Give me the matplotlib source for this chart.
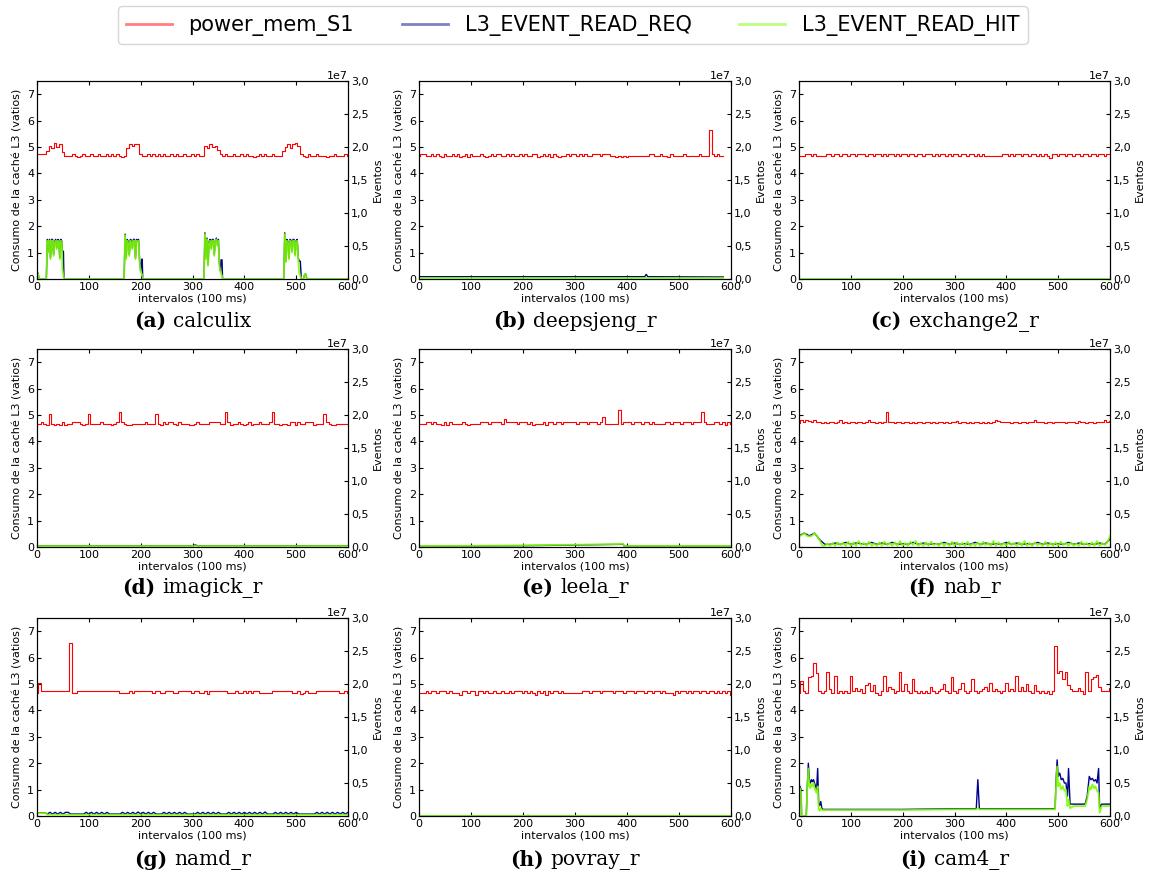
import numpy as np
import matplotlib.pyplot as plt
from matplotlib.lines import Line2D
from matplotlib.ticker import FuncFormatter
from matplotlib.offsetbox import TextArea, HPacker, AnnotationBbox

# power_mem_S1 (vatios), sampled every 5 intervals
calculix_pw = [
    4.72, 4.72, 4.72, 4.72, 4.85, 5.05, 4.95, 5.15, 5.0, 5.1, 4.8, 4.67, 4.67, 4.67, 4.72, 4.67, 4.62, 4.67, 4.72, 4.67,
    4.67, 4.72, 4.67, 4.67, 4.72, 4.67, 4.67, 4.72, 4.67, 4.72, 4.67, 4.72, 4.67, 4.62, 4.67, 4.95, 5.1, 5.05, 5.1, 5.1,
    4.75, 4.67, 4.67, 4.72, 4.67, 4.72, 4.67, 4.72, 4.67, 4.72, 4.67, 4.67, 4.72, 4.67, 4.72, 4.67, 4.67, 4.72, 4.67, 4.67,
    4.72, 4.67, 4.72, 4.67, 4.67, 5.05, 4.95, 5.1, 5.0, 5.05, 4.9, 4.72, 4.67, 4.72, 4.67, 4.67, 4.72, 4.67, 4.67, 4.72,
    4.67, 4.72, 4.67, 4.67, 4.62, 4.67, 4.72, 4.67, 4.72, 4.67, 4.67, 4.72, 4.67, 4.67, 4.67, 4.85, 5.0, 5.1, 4.95, 5.1,
    5.15, 5.05, 4.72, 4.67, 4.62, 4.72, 4.67, 4.67, 4.72, 4.67, 4.67, 4.67, 4.62, 4.67, 4.67, 4.72, 4.67, 4.67, 4.67, 4.72,
    4.67]
deepsjeng_pw = [
    4.67, 4.72, 4.72, 4.67, 4.67, 4.72, 4.67, 4.72, 4.67, 4.62, 4.72, 4.67, 4.67, 4.72, 4.67, 4.72, 4.62, 4.67, 4.72, 4.62,
    4.72, 4.67, 4.67, 4.67, 4.72, 4.67, 4.62, 4.67, 4.72, 4.67, 4.72, 4.72, 4.67, 4.67, 4.72, 4.67, 4.72, 4.67, 4.67, 4.72,
    4.67, 4.72, 4.67, 4.67, 4.72, 4.72, 4.62, 4.67, 4.72, 4.67, 4.72, 4.62, 4.72, 4.67, 4.62, 4.67, 4.67, 4.72, 4.67, 4.72,
    4.72, 4.67, 4.72, 4.67, 4.72, 4.67, 4.67, 4.72, 4.72, 4.72, 4.67, 4.72, 4.72, 4.72, 4.67, 4.67, 4.62, 4.67, 4.62, 4.67,
    4.62, 4.67, 4.67, 4.67, 4.67, 4.67, 4.67, 4.67, 4.67, 4.72, 4.72, 4.67, 4.67, 4.72, 4.67, 4.67, 4.62, 4.72, 4.67, 4.67,
    4.67, 4.67, 4.72, 4.67, 4.67, 4.67, 4.67, 4.67, 4.72, 4.67, 4.67, 4.67, 5.65, 4.72, 4.67, 4.72, 4.67, 4.67]
exchange2_pw = [
    4.67, 4.67, 4.67, 4.72, 4.72, 4.67, 4.72, 4.67, 4.67, 4.67, 4.67, 4.72, 4.72, 4.67, 4.72, 4.72, 4.67, 4.72, 4.72, 4.67,
    4.72, 4.72, 4.67, 4.72, 4.72, 4.72, 4.67, 4.72, 4.72, 4.67, 4.72, 4.72, 4.67, 4.72, 4.67, 4.72, 4.72, 4.67, 4.72, 4.67,
    4.72, 4.72, 4.67, 4.72, 4.72, 4.67, 4.72, 4.72, 4.67, 4.72, 4.72, 4.72, 4.67, 4.72, 4.67, 4.72, 4.72, 4.67, 4.72, 4.67,
    4.72, 4.72, 4.67, 4.72, 4.72, 4.67, 4.72, 4.72, 4.67, 4.72, 4.67, 4.72, 4.67, 4.67, 4.67, 4.67, 4.67, 4.67, 4.67, 4.72,
    4.72, 4.67, 4.72, 4.67, 4.72, 4.72, 4.67, 4.72, 4.72, 4.67, 4.72, 4.72, 4.67, 4.72, 4.67, 4.72, 4.67, 4.58, 4.72, 4.72,
    4.67, 4.72, 4.72, 4.67, 4.72, 4.72, 4.67, 4.72, 4.72, 4.67, 4.72, 4.72, 4.67, 4.72, 4.72, 4.67, 4.72, 4.72, 4.67, 4.72,
    4.72]
imagick_pw = [
    4.67, 4.67, 4.75, 4.67, 4.62, 5.02, 4.67, 4.62, 4.67, 4.62, 4.75, 4.62, 4.67, 4.67, 4.75, 4.75, 4.75, 4.67, 4.62, 4.67,
    5.02, 4.67, 4.67, 4.67, 4.67, 4.75, 4.67, 4.67, 4.67, 4.62, 4.67, 4.75, 5.1, 4.75, 4.67, 4.62, 4.62, 4.67, 4.67, 4.67,
    4.67, 4.67, 4.75, 4.67, 4.67, 4.67, 5.02, 4.67, 4.62, 4.75, 4.67, 4.75, 4.75, 4.67, 4.62, 4.75, 4.67, 4.67, 4.67, 4.62,
    4.62, 4.67, 4.75, 4.67, 4.67, 4.67, 4.67, 4.75, 4.75, 4.75, 4.75, 4.67, 4.67, 5.1, 4.75, 4.62, 4.67, 4.67, 4.75, 4.67,
    4.62, 4.67, 4.75, 4.62, 4.67, 4.67, 4.75, 4.67, 4.67, 4.67, 4.75, 5.1, 4.67, 4.67, 4.62, 4.67, 4.67, 4.62, 4.75, 4.75,
    4.62, 4.75, 4.67, 4.67, 4.75, 4.75, 4.75, 4.62, 4.67, 4.67, 4.67, 5.02, 4.75, 4.67, 4.62, 4.62, 4.67, 4.67, 4.67, 4.67,
    4.67]
leela_pw = [
    4.67, 4.67, 4.67, 4.75, 4.75, 4.67, 4.75, 4.67, 4.67, 4.62, 4.75, 4.62, 4.75, 4.67, 4.67, 4.67, 4.67, 4.75, 4.67, 4.62,
    4.67, 4.67, 4.67, 4.67, 4.75, 4.75, 4.75, 4.67, 4.75, 4.75, 4.75, 4.75, 4.67, 4.85, 4.75, 4.75, 4.75, 4.75, 4.67, 4.75,
    4.75, 4.75, 4.67, 4.75, 4.62, 4.67, 4.67, 4.67, 4.75, 4.62, 4.75, 4.75, 4.67, 4.75, 4.75, 4.67, 4.75, 4.75, 4.75, 4.75,
    4.75, 4.67, 4.75, 4.75, 4.75, 4.67, 4.75, 4.75, 4.75, 4.67, 4.75, 4.92, 4.67, 4.67, 4.67, 4.67, 4.67, 5.2, 4.67, 4.75,
    4.75, 4.75, 4.67, 4.75, 4.75, 4.75, 4.67, 4.75, 4.75, 4.67, 4.75, 4.67, 4.67, 4.67, 4.67, 4.75, 4.75, 4.67, 4.75, 4.75,
    4.75, 4.67, 4.75, 4.75, 4.75, 4.67, 4.75, 4.75, 4.75, 5.1, 4.75, 4.67, 4.67, 4.67, 4.75, 4.75, 4.67, 4.75, 4.62, 4.75,
    4.67]
nab_pw = [
    4.7, 4.8, 4.75, 4.8, 4.78, 4.72, 4.8, 4.75, 4.72, 4.7, 4.75, 4.7, 4.72, 4.75, 4.7, 4.72, 4.8, 4.7, 4.75, 4.7,
    4.72, 4.75, 4.7, 4.72, 4.75, 4.7, 4.72, 4.8, 4.75, 4.72, 4.7, 4.75, 4.7, 4.72, 5.1, 4.72, 4.75, 4.7, 4.72, 4.75,
    4.7, 4.72, 4.75, 4.7, 4.72, 4.7, 4.75, 4.72, 4.7, 4.72, 4.75, 4.7, 4.72, 4.7, 4.72, 4.75, 4.7, 4.72, 4.7, 4.72,
    4.75, 4.78, 4.7, 4.72, 4.75, 4.7, 4.72, 4.7, 4.75, 4.72, 4.7, 4.72, 4.7, 4.72, 4.7, 4.75, 4.8, 4.78, 4.75, 4.72,
    4.75, 4.72, 4.7, 4.75, 4.72, 4.7, 4.75, 4.72, 4.7, 4.72, 4.75, 4.8, 4.72, 4.75, 4.72, 4.7, 4.75, 4.72, 4.7, 4.75,
    4.72, 4.75, 4.72, 4.7, 4.75, 4.72, 4.75, 4.7, 4.78, 4.72, 4.75, 4.7, 4.72, 4.75, 4.7, 4.72, 4.75, 4.72, 4.8, 4.72,
    4.78]
namd_pw = [
    4.67, 5.05, 4.72, 4.75, 4.72, 4.75, 4.72, 4.75, 4.72, 4.75, 4.75, 4.72, 4.75, 6.55, 4.67, 4.67, 4.75, 4.72, 4.75, 4.72,
    4.75, 4.72, 4.75, 4.72, 4.75, 4.75, 4.72, 4.75, 4.75, 4.72, 4.75, 4.75, 4.67, 4.67, 4.67, 4.67, 4.75, 4.67, 4.75, 4.72,
    4.75, 4.75, 4.72, 4.75, 4.75, 4.67, 4.75, 4.72, 4.67, 4.67, 4.75, 4.72, 4.75, 4.67, 4.67, 4.75, 4.72, 4.75, 4.75, 4.72,
    4.67, 4.75, 4.72, 4.67, 4.67, 4.75, 4.62, 4.75, 4.75, 4.72, 4.75, 4.75, 4.72, 4.75, 4.67, 4.67, 4.67, 4.75, 4.67, 4.67,
    4.75, 4.67, 4.75, 4.67, 4.72, 4.75, 4.67, 4.67, 4.67, 4.67, 4.67, 4.75, 4.72, 4.75, 4.75, 4.72, 4.75, 4.72, 4.75, 4.67,
    4.67, 4.72, 4.62, 4.67, 4.75, 4.67, 4.67, 4.67, 4.75, 4.72, 4.75, 4.72, 4.75, 4.75, 4.72, 4.75, 4.75, 4.67, 4.67, 4.75,
    4.67]
povray_pw = [
    4.67, 4.67, 4.67, 4.72, 4.67, 4.72, 4.72, 4.67, 4.72, 4.72, 4.72, 4.67, 4.72, 4.67, 4.67, 4.67, 4.6, 4.72, 4.72, 4.67,
    4.72, 4.72, 4.6, 4.72, 4.72, 4.67, 4.72, 4.67, 4.67, 4.72, 4.67, 4.67, 4.72, 4.67, 4.67, 4.72, 4.67, 4.72, 4.72, 4.72,
    4.67, 4.72, 4.67, 4.72, 4.67, 4.6, 4.72, 4.67, 4.72, 4.6, 4.72, 4.67, 4.72, 4.72, 4.67, 4.72, 4.67, 4.67, 4.67, 4.67,
    4.67, 4.67, 4.67, 4.72, 4.72, 4.72, 4.67, 4.72, 4.72, 4.72, 4.67, 4.72, 4.72, 4.72, 4.72, 4.67, 4.72, 4.72, 4.72, 4.67,
    4.72, 4.72, 4.72, 4.67, 4.72, 4.72, 4.72, 4.67, 4.72, 4.72, 4.67, 4.72, 4.72, 4.67, 4.72, 4.67, 4.67, 4.67, 4.6, 4.72,
    4.67, 4.72, 4.72, 4.67, 4.72, 4.67, 4.72, 4.72, 4.67, 4.72, 4.72, 4.67, 4.72, 4.72, 4.67, 4.72, 4.67, 4.72, 4.67, 4.72,
    4.6]
cam4_pw = [
    4.67, 5.1, 4.72, 4.67, 5.25, 5.3, 5.8, 5.4, 4.75, 4.67, 4.72, 5.45, 4.8, 4.67, 5.3, 4.67, 4.72, 4.67, 4.72, 4.67,
    5.3, 4.75, 4.85, 4.72, 4.8, 4.67, 4.95, 5.05, 4.72, 4.95, 4.67, 4.6, 4.75, 5.3, 4.72, 4.9, 4.8, 4.67, 4.72, 5.45,
    4.75, 5.0, 4.72, 4.67, 5.2, 4.75, 4.67, 4.72, 4.67, 4.72, 4.67, 4.9, 4.72, 4.67, 4.72, 4.8, 5.0, 4.72, 4.67, 5.25,
    4.75, 4.67, 4.8, 5.05, 4.72, 4.67, 4.72, 5.2, 4.72, 4.67, 4.75, 4.8, 4.9, 4.72, 5.05, 4.75, 4.8, 4.72, 4.67, 4.75,
    5.05, 4.72, 4.8, 4.75, 5.3, 4.72, 4.9, 4.75, 5.0, 4.72, 4.67, 4.95, 4.72, 4.67, 4.72, 4.67, 4.72, 4.62, 4.72, 6.45,
    5.4, 5.5, 5.2, 5.45, 4.95, 4.8, 4.75, 4.72, 4.85, 4.72, 4.62, 5.45, 4.75, 5.2, 5.25, 5.35, 4.9, 4.75, 4.72, 4.75,
    4.85]

# L3 events (units of 1e7); irregular series carry their own time stamps
calculix_t = [
    0, 2, 4, 18, 20, 22, 24, 26, 28, 30, 32, 34, 36, 38, 40, 42, 44, 46, 48, 49, 51, 52,
    168, 170, 172, 174, 176, 178, 180, 182, 184, 186, 188, 190, 192, 194, 196, 198, 200, 202, 203, 204,
    322, 324, 326, 328, 330, 332, 334, 336, 338, 340, 342, 344, 346, 348, 350, 352, 354, 355, 357, 358,
    476, 478, 480, 482, 484, 486, 488, 490, 492, 494, 496, 498, 500, 502, 504, 506, 508, 510, 514, 516,
    518, 520, 522, 600]
calculix_req = [
    0.09, 0.09, 0.0, 0.0, 0.6, 0.42, 0.6, 0.32, 0.6, 0.6, 0.37, 0.57, 0.6, 0.47, 0.6, 0.59, 0.32, 0.6, 0.57, 0.42, 0.42, 0.0,
    0.0, 0.68, 0.32, 0.6, 0.57, 0.37, 0.6, 0.59, 0.47, 0.6, 0.6, 0.32, 0.6, 0.58, 0.6, 0.27, 0.12, 0.3, 0.3, 0.0,
    0.0, 0.7, 0.32, 0.62, 0.22, 0.57, 0.6, 0.47, 0.6, 0.6, 0.37, 0.58, 0.62, 0.52, 0.6, 0.22, 0.12, 0.29, 0.29, 0.0,
    0.0, 0.7, 0.27, 0.6, 0.57, 0.32, 0.6, 0.59, 0.42, 0.6, 0.6, 0.37, 0.58, 0.6, 0.32, 0.27, 0.27, 0.0, 0.0, 0.06,
    0.08, 0.02, 0.0, 0.0]
calculix_hit = [
    0.08, 0.08, 0.0, 0.0, 0.58, 0.4, 0.58, 0.3, 0.58, 0.58, 0.35, 0.55, 0.58, 0.45, 0.58, 0.57, 0.3, 0.58, 0.55, 0.15, 0.05, 0.0,
    0.0, 0.66, 0.3, 0.58, 0.55, 0.35, 0.58, 0.57, 0.45, 0.58, 0.58, 0.3, 0.58, 0.56, 0.58, 0.25, 0.1, 0.08, 0.05, 0.0,
    0.0, 0.68, 0.3, 0.6, 0.2, 0.55, 0.58, 0.45, 0.58, 0.58, 0.35, 0.56, 0.6, 0.5, 0.58, 0.2, 0.1, 0.08, 0.05, 0.0,
    0.0, 0.68, 0.25, 0.58, 0.55, 0.3, 0.58, 0.57, 0.4, 0.58, 0.58, 0.35, 0.56, 0.58, 0.3, 0.08, 0.05, 0.0, 0.0, 0.06,
    0.08, 0.02, 0.0, 0.0]

deepsjeng_t = [0, 430, 434, 437, 440, 585]
deepsjeng_req = [0.035, 0.035, 0.035, 0.07, 0.035, 0.03]
deepsjeng_hit = [0.015, 0.015, 0.015, 0.02, 0.015, 0.015]

exchange2_t = [0, 600]
exchange2_req = [0.002, 0.002]
exchange2_hit = [0.001, 0.001]

imagick_t = [0, 300, 305, 310, 600]
imagick_req = [0.02, 0.02, 0.03, 0.02, 0.02]
imagick_hit = [0.018, 0.018, 0.018, 0.018, 0.018]

leela_t = [0, 100, 200, 300, 385, 392, 395, 600]
leela_req = [0.012, 0.015, 0.02, 0.03, 0.04, 0.045, 0.012, 0.012]
leela_hit = [0.015, 0.018, 0.025, 0.035, 0.045, 0.05, 0.015, 0.015]

# nab: REQ every 10 intervals, HIT every 5
nab_req = [
    0.17, 0.21, 0.17, 0.21, 0.11, 0.04, 0.04, 0.06, 0.04, 0.07,
    0.04, 0.06, 0.05, 0.04, 0.07, 0.04, 0.06, 0.04, 0.07, 0.04,
    0.05, 0.04, 0.07, 0.04, 0.06, 0.04, 0.05, 0.04, 0.07, 0.04,
    0.06, 0.04, 0.05, 0.04, 0.07, 0.04, 0.06, 0.04, 0.05, 0.04,
    0.07, 0.04, 0.06, 0.04, 0.05, 0.04, 0.07, 0.04, 0.06, 0.04,
    0.05, 0.04, 0.07, 0.04, 0.06, 0.04, 0.05, 0.04, 0.06, 0.04,
    0.12]
nab_hit = [
    0.16, 0.18, 0.21, 0.17, 0.16, 0.17, 0.21, 0.16, 0.1, 0.02, 0.02, 0.05, 0.02, 0.06, 0.02, 0.07, 0.03, 0.06, 0.02, 0.08,
    0.02, 0.07, 0.02, 0.09, 0.03, 0.06, 0.02, 0.08, 0.02, 0.05, 0.02, 0.07, 0.02, 0.08, 0.03, 0.06, 0.02, 0.07, 0.02, 0.09,
    0.02, 0.06, 0.02, 0.08, 0.03, 0.09, 0.02, 0.06, 0.02, 0.07, 0.02, 0.08, 0.03, 0.05, 0.02, 0.07, 0.02, 0.06, 0.02, 0.08,
    0.02, 0.07, 0.03, 0.06, 0.02, 0.08, 0.02, 0.05, 0.02, 0.07, 0.02, 0.08, 0.03, 0.06, 0.02, 0.09, 0.02, 0.07, 0.02, 0.06,
    0.02, 0.08, 0.03, 0.06, 0.02, 0.07, 0.02, 0.09, 0.02, 0.06, 0.02, 0.07, 0.03, 0.05, 0.02, 0.08, 0.02, 0.06, 0.02, 0.07,
    0.02, 0.08, 0.03, 0.06, 0.02, 0.07, 0.02, 0.05, 0.02, 0.08, 0.03, 0.06, 0.02, 0.07, 0.02, 0.09, 0.02, 0.06, 0.03, 0.07,
    0.17]

# namd: REQ every 5 intervals, HIT as a step
namd_req = [
    0.05, 0.05, 0.05, 0.05, 0.03, 0.055, 0.03, 0.055, 0.03, 0.055, 0.03, 0.055, 0.055, 0.03, 0.03, 0.03, 0.03, 0.03, 0.03, 0.055,
    0.03, 0.055, 0.03, 0.055, 0.03, 0.055, 0.03, 0.055, 0.03, 0.03, 0.03, 0.03, 0.03, 0.055, 0.03, 0.055, 0.03, 0.055, 0.03, 0.06,
    0.03, 0.055, 0.03, 0.055, 0.03, 0.055, 0.03, 0.03, 0.03, 0.055, 0.03, 0.055, 0.03, 0.055, 0.03, 0.055, 0.03, 0.055, 0.03, 0.03,
    0.03, 0.03, 0.055, 0.03, 0.055, 0.03, 0.055, 0.03, 0.055, 0.03, 0.055, 0.03, 0.03, 0.03, 0.055, 0.03, 0.055, 0.03, 0.055, 0.03,
    0.055, 0.03, 0.055, 0.03, 0.055, 0.03, 0.055, 0.03, 0.06, 0.03, 0.03, 0.03, 0.055, 0.03, 0.055, 0.03, 0.055, 0.03, 0.055, 0.03,
    0.055, 0.03, 0.03, 0.03, 0.03, 0.03, 0.03, 0.03, 0.055, 0.03, 0.055, 0.03, 0.055, 0.03, 0.055, 0.03, 0.055, 0.03, 0.055, 0.03,
    0.055]
namd_hit_t = [0, 18, 20, 600]
namd_hit = [0.045, 0.045, 0.02, 0.02]

povray_t = [0, 205, 210, 215, 600]
povray_req = [0.002, 0.002, 0.008, 0.002, 0.002]
povray_hit = [0.001, 0.001, 0.004, 0.001, 0.001]

cam4_t = [
    0, 2, 4, 5, 14, 16, 18, 20, 22, 24, 26, 28, 30, 32, 34, 36, 38, 40, 42, 44,
    46, 100, 200, 300, 342, 345, 348, 400, 494, 496, 498, 500, 503, 506, 509, 512, 515, 518, 520, 523,
    530, 552, 556, 560, 563, 566, 569, 572, 575, 578, 580, 584, 600]
cam4_req = [
    0.4, 0.45, 0.4, 0.0, 0.0, 0.45, 0.8, 0.55, 0.5, 0.55, 0.52, 0.55, 0.5, 0.45, 0.4, 0.72, 0.2, 0.16, 0.22, 0.12,
    0.1, 0.1, 0.1, 0.11, 0.11, 0.55, 0.11, 0.11, 0.11, 0.55, 0.85, 0.6, 0.65, 0.55, 0.57, 0.5, 0.5, 0.3, 0.72, 0.18,
    0.18, 0.18, 0.3, 0.6, 0.55, 0.57, 0.53, 0.55, 0.5, 0.72, 0.12, 0.18, 0.18]
cam4_hit = [
    0.35, 0.42, 0.35, 0.0, 0.0, 0.4, 0.72, 0.45, 0.42, 0.48, 0.45, 0.5, 0.42, 0.38, 0.35, 0.45, 0.1, 0.08, 0.12, 0.09,
    0.09, 0.09, 0.09, 0.1, 0.1, 0.12, 0.1, 0.1, 0.1, 0.45, 0.75, 0.45, 0.5, 0.4, 0.45, 0.38, 0.4, 0.15, 0.25, 0.12,
    0.15, 0.15, 0.25, 0.45, 0.4, 0.48, 0.42, 0.45, 0.38, 0.35, 0.05, 0.15, 0.15]

letters = ['a', 'b', 'c', 'd', 'e', 'f', 'g', 'h', 'i']
names = ['calculix', 'deepsjeng_r', 'exchange2_r', 'imagick_r', 'leela_r',
         'nab_r', 'namd_r', 'povray_r', 'cam4_r']


def every(values, step):
    return np.arange(len(values)) * step


panels = [
    (calculix_pw, (calculix_t, calculix_req), (calculix_t, calculix_hit)),
    (deepsjeng_pw, (deepsjeng_t, deepsjeng_req), (deepsjeng_t, deepsjeng_hit)),
    (exchange2_pw, (exchange2_t, exchange2_req), (exchange2_t, exchange2_hit)),
    (imagick_pw, (imagick_t, imagick_req), (imagick_t, imagick_hit)),
    (leela_pw, (leela_t, leela_req), (leela_t, leela_hit)),
    (nab_pw, (every(nab_req, 10), nab_req), (every(nab_hit, 5), nab_hit)),
    (namd_pw, (every(namd_req, 5), namd_req), (namd_hit_t, namd_hit)),
    (povray_pw, (povray_t, povray_req), (povray_t, povray_hit)),
    (cam4_pw, (cam4_t, cam4_req), (cam4_t, cam4_hit)),
]

RED, BLUE, GREEN = '#ff0000', '#00008b', '#7cfc00'
EV = 1e7
W, H = 1157, 877

fig = plt.figure(figsize=(W / 100, H / 100), dpi=100)

# axes boxes in pixels
col_px = [(37, 348), (419, 731), (799, 1110)]
row_px = [(81, 279), (349, 547), (618, 816)]
caption_y = [321, 588, 860]

ev_fmt = FuncFormatter(lambda v, _: f'{v / EV:.1f}'.replace('.', ','))

for k, (pw, (rt, rv), (ht, hv)) in enumerate(panels):
    r, c = divmod(k, 3)
    x0, x1 = col_px[c]
    y0, y1 = row_px[r]
    ax = fig.add_axes([x0 / W, 1 - y1 / H, (x1 - x0) / W, (y1 - y0) / H])
    ax.plot(every(pw, 5), pw, color=RED, lw=0.8, drawstyle='steps-mid')
    ax.set_xlim(0, 600)
    ax.set_ylim(0, 7.5)
    ax.set_xticks(range(0, 601, 100))
    ax.set_yticks(range(8))
    ax.tick_params(labelsize=8, direction='in', length=3, pad=2, top=True)
    ax.set_xlabel('intervalos (100 ms)', fontsize=8, labelpad=1)
    ax.set_ylabel('Consumo de la caché L3 (vatios)', fontsize=8, labelpad=3)

    ax2 = ax.twinx()
    ax2.plot(rt, np.array(rv) * EV, color=BLUE, lw=1.0)
    ax2.plot(ht, np.array(hv) * EV, color=GREEN, lw=1.3, alpha=0.9)
    ax2.set_xlim(0, 600)
    ax2.set_ylim(0, 3 * EV)
    ax2.set_yticks(np.arange(0, 3.01, 0.5) * EV)
    ax2.yaxis.set_major_formatter(ev_fmt)
    ax2.tick_params(labelsize=8, direction='in', length=3, pad=2)
    ax2.set_ylabel('Eventos', fontsize=8, labelpad=3)
    ax2.text(1.0, 1.0, '1e7', transform=ax2.transAxes, ha='right', va='bottom', fontsize=8)

    tag = TextArea(f'({letters[k]})', textprops=dict(family='DejaVu Serif', weight='bold', size=14.5))
    name = TextArea(names[k], textprops=dict(family='DejaVu Serif', size=14.5))
    box = HPacker(children=[tag, name], sep=5, pad=0, align='baseline')
    fig.add_artist(AnnotationBbox(box, ((x0 + x1) / 2 / W, 1 - caption_y[r] / H),
                                  xycoords='figure fraction', frameon=False,
                                  box_alignment=(0.5, 0.5)))

handles = [Line2D([], [], color=col, lw=2, alpha=0.5) for col in (RED, BLUE, GREEN)]
fig.legend(handles, ['power_mem_S1', 'L3_EVENT_READ_REQ', 'L3_EVENT_READ_HIT'],
           loc='upper center', bbox_to_anchor=(0.495, 0.995), ncol=3, fontsize=15,
           handlelength=2.2, columnspacing=2.3, borderpad=0.4, borderaxespad=0.1)

fig.savefig('out.png', dpi=100)
